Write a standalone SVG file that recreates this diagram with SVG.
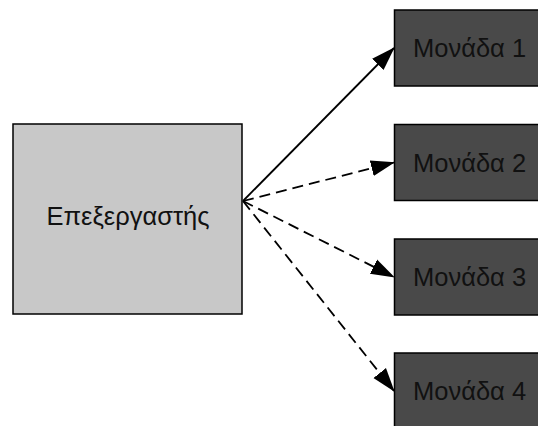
<svg xmlns="http://www.w3.org/2000/svg" width="538" height="426" viewBox="0 0 538 426">
<style>
.proc{fill:#c8c8c8;stroke:#000;stroke-width:1.5}
.unit{fill:#494949;stroke:#000;stroke-width:1.5}
.lbl{font-family:"Liberation Sans",Arial,sans-serif;font-size:25.5px;fill:#111}
.conn{stroke:#000;stroke-width:1.8;fill:none;marker-end:url(#ah)}
.dash{stroke-dasharray:11,6}
</style>
<defs>
<marker id="ah" markerWidth="24" markerHeight="18" refX="23" refY="9" orient="auto" markerUnits="userSpaceOnUse">
<path d="M0,1 L24,9 L0,17 Z" fill="#000"/>
</marker>
</defs>
<rect width="538" height="426" fill="#fff"/>
<g id="cpu">
<rect class="proc" x="13" y="124" width="229" height="190"/>
<text class="lbl" x="128" y="225" text-anchor="middle">Επεξεργαστής</text>
</g>
<g id="unit1">
<rect class="unit" x="394.5" y="10" width="160" height="76"/>
<text class="lbl" x="413" y="57">Μονάδα 1</text>
</g>
<g id="unit2">
<rect class="unit" x="394.5" y="124.5" width="160" height="76"/>
<text class="lbl" x="413" y="171.5">Μονάδα 2</text>
</g>
<g id="unit3">
<rect class="unit" x="394.5" y="239" width="160" height="76"/>
<text class="lbl" x="413" y="286">Μονάδα 3</text>
</g>
<g id="unit4">
<rect class="unit" x="394.5" y="353" width="160" height="76"/>
<text class="lbl" x="413" y="400">Μονάδα 4</text>
</g>
<g id="connectors">
<line class="conn" x1="243" y1="201" x2="394" y2="48"/>
<line class="conn dash" x1="243" y1="201" x2="394" y2="162.5"/>
<line class="conn dash" x1="243" y1="201" x2="394" y2="277"/>
<line class="conn dash" x1="243" y1="201" x2="394" y2="391"/>
</g>
</svg>
